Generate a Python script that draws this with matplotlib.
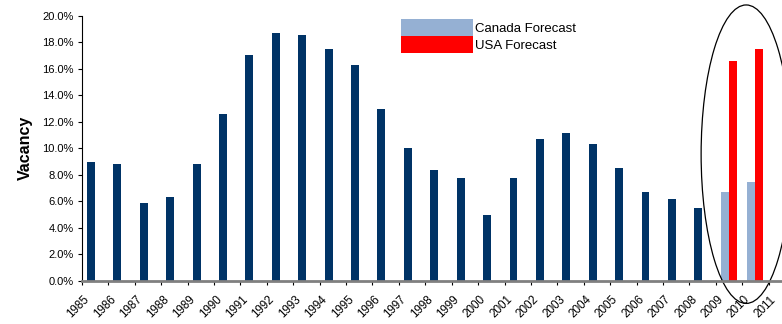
import numpy as np
import matplotlib.pyplot as plt
from matplotlib.patches import Patch, Ellipse

plt.rcParams['font.family'] = ['Liberation Sans', 'DejaVu Sans']

years = [str(y) for y in range(1985, 2012)]
vacancy = [9.0, 8.8, 5.9, 6.3, 8.8, 12.6, 17.0, 18.7, 18.55, 17.5, 16.3, 13.0,
           10.0, 8.4, 7.75, 4.95, 7.75, 10.7, 11.15, 10.3, 8.5, 6.7, 6.15, 5.5]
canada_fc = [6.7, 7.45]
usa_fc = [16.6, 17.5]

navy = '#003366'
lightblue = '#95B0D3'
red = '#FF0000'

fig = plt.figure(figsize=(7.82, 3.24), dpi=100)
ax = fig.add_axes([82/782, 1 - 281/324, 713/782, (281 - 15.7)/324])

x = np.arange(len(years))
bw = 0.30
ax.bar(x[:len(vacancy)] + 0.19, vacancy, width=bw, align='edge', color=navy)
xf = x[len(vacancy):len(vacancy) + len(canada_fc)]
ax.bar(xf + 0.19, canada_fc, width=bw, align='edge', color=lightblue)
ax.bar(xf + 0.49, usa_fc, width=bw, align='edge', color=red)

ax.set_xlim(0, len(years))
ax.set_ylim(0, 20)
ax.set_yticks(np.arange(0, 20.1, 2))
ax.set_yticklabels(['%.1f%%' % v for v in np.arange(0, 20.1, 2)], fontsize=8)
ax.set_xticks(np.arange(0, len(years) + 1))
ax.set_xticklabels([])
# labels sit to the left of the category centre, like the original
ax.set_xticks(x + 0.06, minor=True)
ax.set_xticklabels(years, minor=True, rotation=45, ha='right',
                   rotation_mode='anchor', fontsize=8.4)
ax.tick_params(axis='x', which='minor', length=0, pad=9)
ax.tick_params(axis='both', which='major', length=3, width=0.8, color='black',
               direction='out', labelcolor='black')
ax.tick_params(axis='y', pad=3)

for s in ['top', 'right']:
    ax.spines[s].set_visible(False)
ax.spines['left'].set_color('black')
ax.spines['left'].set_linewidth(0.8)
ax.spines['bottom'].set_color('#808080')
ax.spines['bottom'].set_linewidth(2)

ax.set_ylabel('Vacancy', fontsize=11.5, fontweight='bold', labelpad=7)

ell = Ellipse((25.15, 9.56), 3.41, 22.5, fill=False, edgecolor='black',
              linewidth=0.9, clip_on=False)
ax.add_patch(ell)

handles = [Patch(facecolor=lightblue, edgecolor='none', label='Canada Forecast'),
           Patch(facecolor=red, edgecolor='none', label='USA Forecast')]
fig.legend(handles=handles, loc='upper left', bbox_to_anchor=(401/782, 1 - 19/324),
           frameon=False, fontsize=9.5, borderpad=0, borderaxespad=0,
           handlelength=5.45, handleheight=1.6, handletextpad=0.15,
           labelspacing=0)

fig.savefig('out.png', dpi=100)
